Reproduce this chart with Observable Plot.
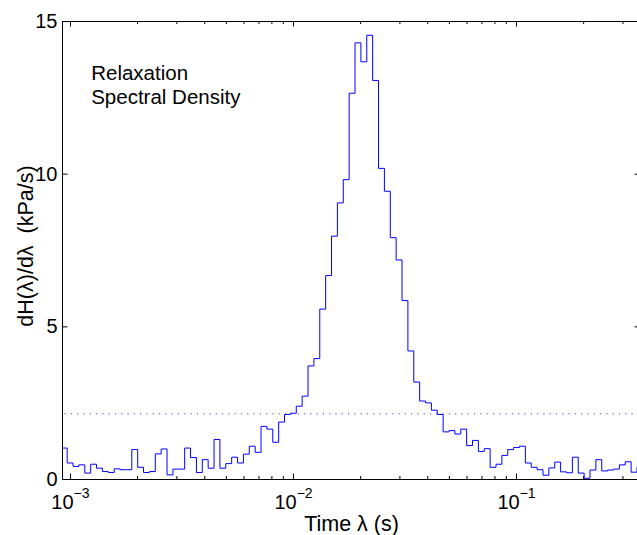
<!DOCTYPE html>
<html>
<head>
<meta charset="utf-8">
<script src="https://cdn.jsdelivr.net/npm/d3@7"></script>
<script src="https://cdn.jsdelivr.net/npm/@observablehq/plot@0.6"></script>
<style>
  html, body { margin: 0; padding: 0; overflow: hidden; background: white; }
  svg { overflow: hidden; }
</style>
</head>
<body>
<div id="chart"></div>
<script>
// Relaxation time bins: log-spaced grid (left edge of first bin, width of a bin in decades)
const logLambdaStart = -3.0411;
const logLambdaStep = 0.02634;

// Spectral density per bin (kPa/s)
const density = [
  1.03, 0.54, 0.43, 0.48, 0.21, 0.50, 0.37, 0.26, 0.23, 0.35, 0.32,
  0.32, 0.98, 0.40, 0.23, 0.26, 0.84, 1.00, 0.15, 0.34, 0.34,
  1.03, 0.72, 0.23, 0.65, 0.37, 1.31, 0.37, 0.52, 0.73, 0.54,
  0.83, 1.09, 0.89, 1.74, 1.65, 1.22, 1.88, 2.13, 2.17, 2.40,
  2.73, 3.72, 3.96, 5.58, 6.68, 7.97, 9.06, 9.82, 12.65, 14.30,
  13.68, 14.55, 13.07, 10.19, 9.44, 7.92, 7.19, 5.86, 4.21, 3.19,
  2.57, 2.51, 2.27, 2.13, 1.56, 1.60, 1.49, 1.65, 1.11, 1.28,
  0.92, 1.01, 0.40, 0.50, 0.79, 0.98, 1.05, 1.09, 0.54, 0.40,
  0.32, 0.14, 0.38, 0.57, 0.25, 0.22, 0.73, 0.21, 0.04, 0.31,
  0.65, 0.28, 0.31, 0.34, 0.48, 0.58, 0.24, 0.40
];

// Dotted reference level
const thresholdLevel = 2.15;

// Axes
const xDomain = [0.000921, 0.3597];
const yDomain = [0, 15];
const xTicks = [1e-3, 1e-2, 1e-1];
const xTickLabels = ["10^-3", "10^-2", "10^-1"];
const xMinorTicks = [2e-3, 3e-3, 4e-3, 5e-3, 6e-3, 7e-3, 8e-3, 9e-3,
                     2e-2, 3e-2, 4e-2, 5e-2, 6e-2, 7e-2, 8e-2, 9e-2,
                     2e-1, 3e-1];
const yTicks = [0, 5, 10, 15];
const yInnerTicks = [5, 10];

const annotation = "Relaxation\nSpectral Density";
const xLabel = "Time λ (s)";
const yLabel = "dH(λ)/dλ  (kPa/s)";

// Build stair points (left edge of each bin + closing edge)
const stairs = density.map((v, i) => ({lambda: Math.pow(10, logLambdaStart + i * logLambdaStep), value: v}));
stairs.push({lambda: Math.pow(10, logLambdaStart + density.length * logLambdaStep), value: density[density.length - 1]});

const W = 637, H = 535;
const mTop = 21, mBottom = 56, mLeft = 62, mRight = -3;
const innerW = W - mLeft - mRight;
const innerH = H - mTop - mBottom;
const font = "'Liberation Sans', Arial, Helvetica, sans-serif";

const plot = Plot.plot({
  width: W,
  height: H,
  marginTop: mTop,
  marginBottom: mBottom,
  marginLeft: mLeft,
  marginRight: mRight,
  style: {fontFamily: font, background: "white", color: "black"},
  x: {type: "log", domain: xDomain},
  y: {domain: yDomain},
  marks: [
    Plot.ruleY([thresholdLevel], {stroke: "#0000ff", strokeOpacity: 0.75, strokeWidth: 1, strokeDasharray: "1.2,5.1", strokeDashoffset: -2.5}),
    Plot.line(stairs, {x: "lambda", y: "value", curve: "step-after", stroke: "#0000ff", strokeWidth: 1, clip: true}),
    // box lines
    Plot.ruleY(yDomain, {stroke: "black", strokeWidth: 1}),
    Plot.ruleX([xDomain[0]], {stroke: "black", strokeWidth: 1}),
    // inward ticks
    Plot.tickY(yTicks, {y: d => d, insetRight: innerW - 5.5, stroke: "black"}),
    Plot.tickY(yInnerTicks, {y: d => d, insetLeft: innerW - 5.5, stroke: "black"}),
    Plot.tickX(xTicks, {x: d => d, insetTop: innerH - 5.5, stroke: "black"}),
    Plot.tickX(xTicks, {x: d => d, insetBottom: innerH - 5.5, stroke: "black"}),
    Plot.tickX(xMinorTicks, {x: d => d, insetTop: innerH - 3, stroke: "black"}),
    Plot.tickX(xMinorTicks, {x: d => d, insetBottom: innerH - 3, stroke: "black"}),
    // axis labels
    Plot.axisY({ticks: yTicks, tickSize: 0, tickPadding: 5, fontSize: 20, label: null, tickFormat: d => String(d)}),
    Plot.axisX({ticks: xTicks, tickSize: 0, tickPadding: 15.3, fontSize: 20, label: null, tickFormat: d => xTickLabels[xTicks.indexOf(d)]}),
    Plot.text([annotation], {frameAnchor: "top-left", textAnchor: "start", lineAnchor: "top", dx: 28.7, dy: 41, fontSize: 20.5, lineHeight: 1.17, fill: "black"}),
    Plot.text([xLabel], {frameAnchor: "bottom", lineAnchor: "middle", dy: 44.6, fontSize: 21.5, fill: "black"}),
    Plot.text([yLabel], {frameAnchor: "left", rotate: -90, lineAnchor: "middle", textAnchor: "middle", dx: -36.4, dy: -4.5, fontSize: 21.5, fill: "black"})
  ]
});

// superscript exponents for the log tick labels
const NS = "http://www.w3.org/2000/svg";
plot.querySelectorAll("text").forEach(t => {
  const s = t.textContent;
  if (s.includes("^") && t.children.length === 0) {
    const [base, exp] = s.split("^");
    t.textContent = base;
    const ts = document.createElementNS(NS, "tspan");
    ts.setAttribute("dy", "-11.5");
    ts.setAttribute("font-size", "14");
    ts.textContent = exp.replace("-", "\u2212");
    t.appendChild(ts);
  }
});

document.getElementById("chart").appendChild(plot);
</script>
</body>
</html>
